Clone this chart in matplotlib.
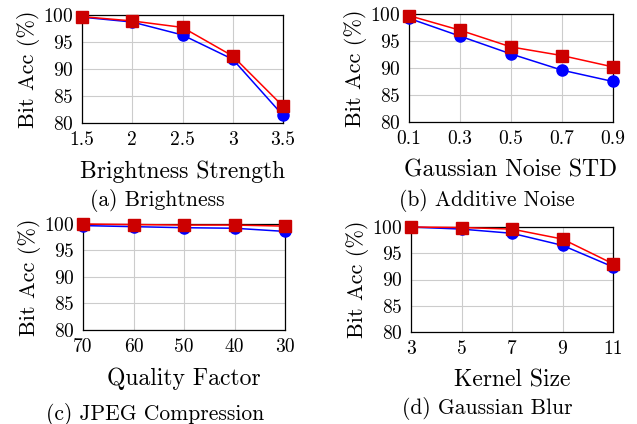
import matplotlib
matplotlib.use("Agg")
import matplotlib.pyplot as plt

plt.rcParams["font.family"] = ["cmr10", "DejaVu Serif"]
plt.rcParams["mathtext.fontset"] = "cm"
plt.rcParams["axes.unicode_minus"] = False
plt.rcParams["axes.formatter.use_mathtext"] = True

# Data
bright_x = [1.5, 2, 2.5, 3, 3.5]
bright_blue = [99.6, 98.7, 96.3, 91.8, 81.4]
bright_red = [99.7, 98.9, 97.7, 92.4, 83.1]

noise_x = [0.1, 0.3, 0.5, 0.7, 0.9]
noise_blue = [99.2, 95.9, 92.6, 89.6, 87.5]
noise_red = [99.7, 97.0, 93.9, 92.3, 90.2]

jpeg_labels = ["70", "60", "50", "40", "30"]
jpeg_blue = [99.7, 99.5, 99.3, 99.2, 98.6]
jpeg_red = [100.0, 99.9, 99.8, 99.8, 99.6]

blur_x = [3, 5, 7, 9, 11]
blur_blue = [100.0, 99.6, 98.8, 96.5, 92.4]
blur_red = [100.0, 99.9, 99.6, 97.7, 93.0]

yticks = [80, 85, 90, 95, 100]

W, H = 637, 424
fig = plt.figure(figsize=(W / 100, H / 100), dpi=100)


def make_ax(left, top, right, bottom):
    return fig.add_axes([left / W, 1 - bottom / H, (right - left) / W, (bottom - top) / H])


def draw(ax, x, blue, red, xticks, xticklabels, xlabel):
    ax.plot(x, blue, color="blue", lw=1.1, marker="o", ms=8,
            mfc="blue", mec="blue", zorder=3)
    ax.plot(x, red, color="red", lw=1.1, marker="s", ms=8,
            mfc="#cc0000", mec="#cc0000", zorder=4)
    ax.set_ylim(80, 100)
    ax.set_xlim(x[0], x[-1])
    ax.set_yticks(yticks)
    ax.set_xticks(xticks)
    ax.set_xticklabels(xticklabels)
    ax.grid(True, color="#cccccc", lw=0.8)
    ax.set_axisbelow(True)
    ax.tick_params(labelsize=14, length=0, pad=6)
    ax.set_ylabel("Bit Acc (%)", fontsize=16, labelpad=2)
    ax.set_xlabel(xlabel, fontsize=17, labelpad=8)
    for s in ax.spines.values():
        s.set_linewidth(0.9)
        s.set_clip_on(False)
    for line in ax.lines:
        line.set_clip_on(False)


ax_a = make_ax(82, 15, 283, 123)
draw(ax_a, bright_x, bright_blue, bright_red, bright_x,
     ["1.5", "2", "2.5", "3", "3.5"], "Brightness Strength")

ax_b = make_ax(409, 14, 613, 122)
draw(ax_b, noise_x, noise_blue, noise_red, noise_x,
     ["0.1", "0.3", "0.5", "0.7", "0.9"], "Gaussian Noise STD")

ax_c = make_ax(83, 224, 285, 330)
jpeg_pos = list(range(len(jpeg_labels)))
draw(ax_c, jpeg_pos, jpeg_blue, jpeg_red, jpeg_pos, jpeg_labels, "Quality Factor")

ax_d = make_ax(411, 227, 613, 332)
draw(ax_d, blur_x, blur_blue, blur_red, blur_x,
     [str(v) for v in blur_x], "Kernel Size")

# sub-captions
fig.text(157 / W, 1 - 200 / H, "(a) Brightness", ha="center", va="center", fontsize=15.5)
fig.text(487 / W, 1 - 200 / H, "(b) Additive Noise", ha="center", va="center", fontsize=15.5)
fig.text(155 / W, 1 - 414 / H, "(c) JPEG Compression", ha="center", va="center", fontsize=15.5)
fig.text(487 / W, 1 - 408 / H, "(d) Gaussian Blur", ha="center", va="center", fontsize=15.5)

fig.savefig("out.png", dpi=100)
